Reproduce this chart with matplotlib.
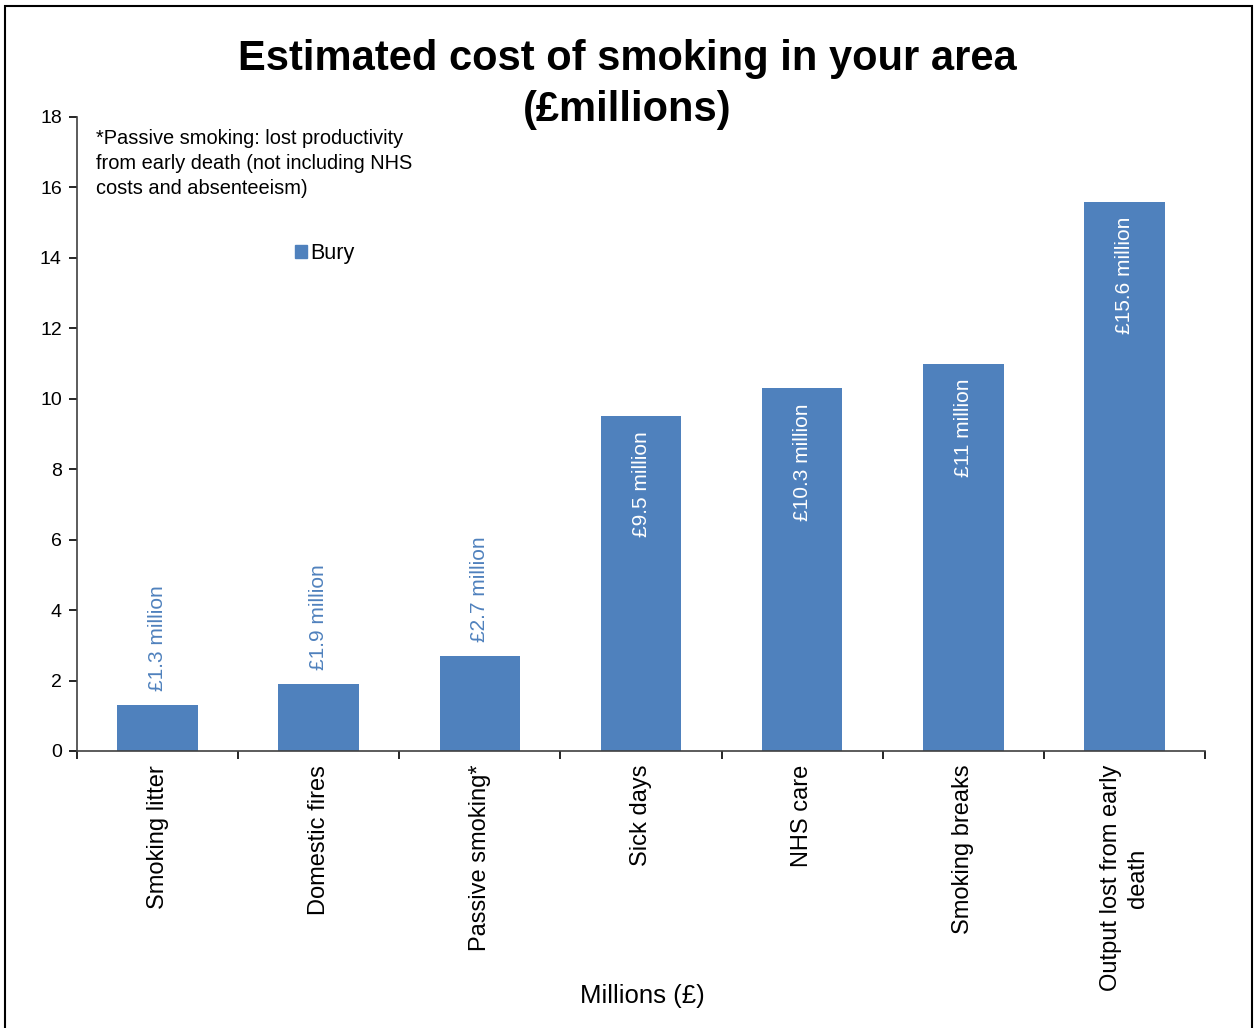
import matplotlib.pyplot as plt
from matplotlib.patches import Rectangle, Patch
import numpy as np

plt.rcParams["font.family"] = ["Liberation Sans", "DejaVu Sans"]

categories = ["Smoking litter", "Domestic fires", "Passive smoking*", "Sick days",
              "NHS care", "Smoking breaks", "Output lost from early\ndeath"]
values = [1.3, 1.9, 2.7, 9.5, 10.3, 11.0, 15.6]
bar_labels = ["£1.3 million", "£1.9 million", "£2.7 million", "£9.5 million",
              "£10.3 million", "£11 million", "£15.6 million"]
inside = [False, False, False, True, True, True, True]

BLUE = "#4F81BD"

fig = plt.figure(figsize=(12.55, 10.28), dpi=100)
ax = fig.add_axes([0.0614, 0.2695, 0.8988, 0.6167])

x = np.arange(len(values))
ax.bar(x, values, width=0.5, color=BLUE, label="Bury")

for xi, v, lab, ins in zip(x, values, bar_labels, inside):
    if ins:
        ax.annotate(lab, (xi, v), xytext=(0, -11), textcoords="offset points",
                    rotation=90, ha="center", va="top", color="white", fontsize=15)
    else:
        ax.annotate(lab, (xi, v), xytext=(0, 10), textcoords="offset points",
                    rotation=90, ha="center", va="bottom", color=BLUE, fontsize=15)

ax.set_xlim(-0.5, len(values) - 0.5)
ax.set_ylim(0, 18)
ax.set_yticks(np.arange(0, 19, 2))
ax.set_xticks(x)
ax.set_xticklabels(categories, rotation=90, fontsize=17, multialignment="center",
                   linespacing=1.28)
ax.set_xticks(np.arange(-0.5, len(values), 1), minor=True)
ax.tick_params(axis="x", which="major", length=0, pad=10)
ax.tick_params(axis="x", which="minor", length=6, width=1.2, direction="out")
ax.tick_params(axis="y", length=6, width=1.2, direction="out", labelsize=14, pad=5)

for s in ["top", "right"]:
    ax.spines[s].set_visible(False)
for s in ["left", "bottom"]:
    ax.spines[s].set_linewidth(1.2)
    ax.spines[s].set_color("#404040")

ax.set_xlabel("Millions (£)", fontsize=18.5, va="center")
ax.xaxis.set_label_coords(0.501, -0.387)

fig.suptitle("Estimated cost of smoking in your area\n(£millions)", fontsize=30,
             fontweight="bold", y=0.962, x=0.5, linespacing=1.35, va="top")

ax.text(0.017, 0.981, "*Passive smoking: lost productivity\nfrom early death (not including NHS\ncosts and absenteeism)",
        transform=ax.transAxes, ha="left", va="top", fontsize=14.4, linespacing=1.4)

ax.legend(handles=[Patch(color=BLUE, label="Bury")], loc="center left",
          bbox_to_anchor=(0.193, 0.785), frameon=False, fontsize=15.5,
          handlelength=0.55, handleheight=0.55, handletextpad=0.15,
          borderaxespad=0, borderpad=0)

fig.patches.append(Rectangle((0.004, -0.01), 0.994, 1.004, transform=fig.transFigure,
                             fill=False, edgecolor="black", linewidth=1.5))

fig.savefig("out.png", dpi=100)
